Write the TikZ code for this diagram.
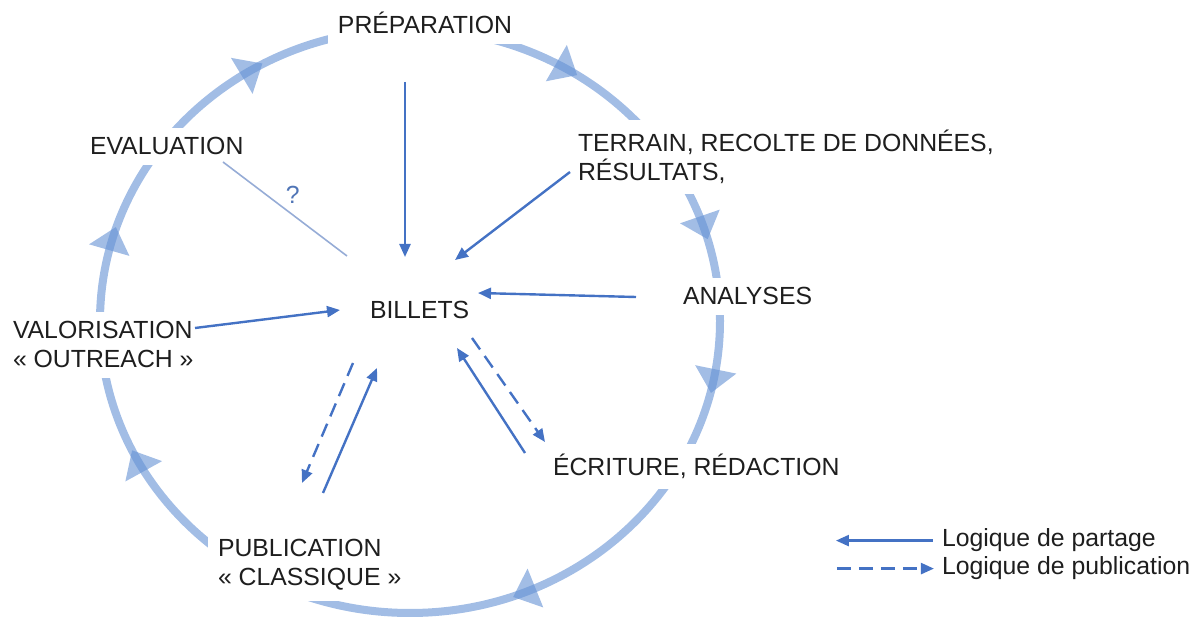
\documentclass[tikz,border=0pt]{standalone}
\usepackage{fontspec}
\setmainfont{Liberation Sans}
\usetikzlibrary{arrows.meta,calc,positioning}
\definecolor{ringblue}{RGB}{100,145,212}
\definecolor{linkblue}{RGB}{68,114,196}
\definecolor{qline}{RGB}{150,172,214}
\definecolor{ink}{RGB}{30,30,30}

\begin{document}
\begin{tikzpicture}[x=0.5pt,y=-0.5pt,
    font=\fontsize{12.4}{14.5}\selectfont,
    ring/.style={draw=ringblue,line width=4pt,opacity=.6},
    tri/.style={fill=ringblue,opacity=.6},
    lbl/.style={fill=white,text=ink,inner sep=5pt,align=left},
    share/.style={draw=linkblue,line width=1.2pt,-{Triangle[length=6.5pt,width=5.5pt]}},
    pubflow/.style={share,dash pattern=on 7pt off 4pt}
  ]
  \useasboundingbox (0,0) rectangle (1200,619);

  % the cycle
  \coordinate (ctr) at (410,321);
  \draw[ring] (ctr) ellipse [x radius=310, y radius=292];
  \foreach \t in {239,300,341,11.5,68,151,196}
    \fill[tri] ($(ctr)+(\t:310 and 292)+(\t+90:14)$)
      -- ($(ctr)+(\t:310 and 292)+(\t+270:10)+(\t:21)$)
      -- ($(ctr)+(\t:310 and 292)+(\t+270:10)+(\t+180:21)$) -- cycle;

  % stages
  \node (prep) [lbl,anchor=base] at (425,34) {PRÉPARATION};
  \node (terrain) [lbl,anchor=text] at (578,181) {TERRAIN, RECOLTE DE DONNÉES,\\RÉSULTATS,};
  \node (analyses) [lbl,anchor=text] at (683,305) {ANALYSES};
  \node (ecriture) [lbl,anchor=text] at (553,476) {ÉCRITURE, RÉDACTION};
  \node (classique) [lbl,anchor=text] at (218,586) {PUBLICATION\\« CLASSIQUE »};
  \node (valo) [lbl,anchor=text] at (13,368) {VALORISATION\\« OUTREACH »};
  \node (eval) [lbl,anchor=text] at (90,155) {EVALUATION};
  \node (billets) [lbl,anchor=text] at (370,319) {BILLETS};

  % ends round the billets
  \coordinate (b-top) at (405,257);
  \coordinate (b-ne) at (455,260);
  \coordinate (b-east) at (478,293);
  \coordinate (b-west) at (340,310);
  \coordinate (b-nw) at (347,256);
  \coordinate (b-sw) at (377,368);
  \coordinate (b-sw2) at (353,363);
  \coordinate (b-se) at (457,348);
  \coordinate (b-se2) at (472,338);
  % ends at the stages
  \coordinate (prep-s) at (405,82);
  \coordinate (terrain-sw) at (570,172);
  \coordinate (analyses-w) at (636,297);
  \coordinate (valo-e) at (195,328);
  \coordinate (eval-se) at (223,162);
  \coordinate (classique-n) at (323,493);
  \coordinate (classique-n2) at (302,483);
  \coordinate (ecriture-nw) at (525,453);
  \coordinate (ecriture-nw2) at (545,442);

  \draw[share] (prep-s) -- (b-top);
  \draw[share] (terrain-sw) -- (b-ne);
  \draw[share] (analyses-w) -- (b-east);
  \draw[share] (valo-e) -- (b-west);
  \draw[draw=qline,line width=.8pt] (eval-se) -- (b-nw) node (qmark) [pos=.48,above right=-2pt and -2pt,text=linkblue!80!gray] {?};
  \draw[share] (classique-n) -- (b-sw);
  \draw[pubflow] (b-sw2) -- (classique-n2);
  \draw[share] (ecriture-nw) -- (b-se);
  \draw[pubflow] (b-se2) -- (ecriture-nw2);

  % legend
  \node (partage) [text=ink,anchor=text] at (942,547) {Logique de partage};
  \node (publication) [text=ink,anchor=text] at (942,575) {Logique de publication};
  \draw[share] ([xshift=-1pt]partage.west) -- ++(-97,0);
  \draw[pubflow] ($(publication.west)+(-98,0)$) -- ++(97,0);
\end{tikzpicture}
\end{document}
